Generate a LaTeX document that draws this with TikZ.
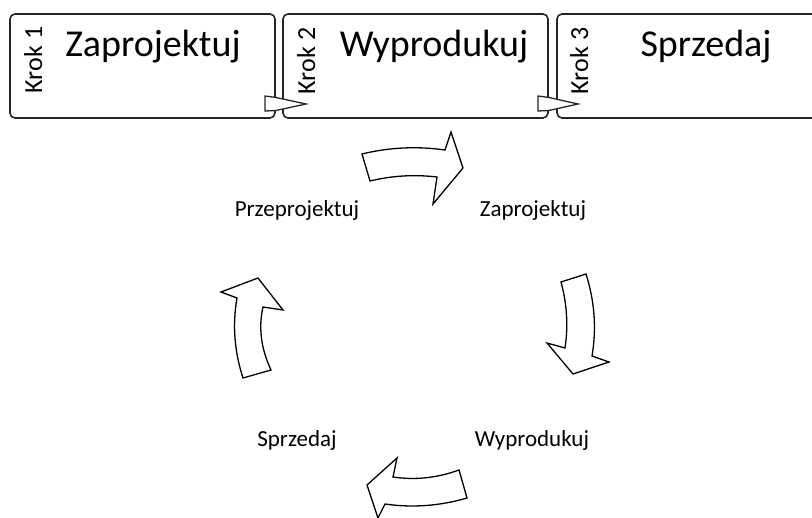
\documentclass[tikz,border=0pt]{standalone}
\usepackage{fontspec}
\setmainfont{Carlito}
\usetikzlibrary{calc}
\tikzset{
  box/.style={draw=black!85, line width=1.6pt, rounded corners=5pt, fill=white, inner sep=0pt},
  steptitle/.style={font=\fontsize{38}{40}\selectfont, anchor=base, inner sep=0pt},
  krok/.style={font=\fontsize{26}{28}\selectfont, anchor=base, rotate=90, inner sep=0pt},
  pointer/.style={draw=black!85, line width=1.3pt, fill=white, line join=miter},
  cyc/.style={draw=black, line width=1.3pt, fill=white, line join=miter},
  lbl/.style={font=\fontsize{23}{25}\selectfont, anchor=base, inner sep=0pt}
}
% quadratic curve helper: from current point #1 via control #2 to #3
\newcommand{\qcurve}[3]{.. controls ($(#1)!0.6667!(#2)$) and ($(#3)!0.6667!(#2)$) .. (#3)}
\begin{document}
\begin{tikzpicture}[x=1pt,y=-1pt]
\useasboundingbox[fill=white] (0,0) rectangle (812,518);
% step boxes
\node[box, minimum width=265pt, minimum height=104pt] (b1) at (142.5,66) {};
\node[box, minimum width=265pt, minimum height=104pt] (b2) at (415.5,66) {};
\node[box, minimum width=273pt, minimum height=104pt] (b3) at (693.5,66) {};
% pointers
\draw[pointer] (265,96) -- (276,97.5) -- (306,104) -- (276,110.5) -- (265,111) -- cycle;
\draw[pointer] (538,96) -- (549,97.5) -- (578,104) -- (549,110.5) -- (538,111) -- cycle;
% texts
\node[steptitle] (t1) at (153,57) {Zaprojektuj};
\node[steptitle] (t2) at (434,57) {Wyprodukuj};
\node[steptitle] (t3) at (706,57) {Sprzedaj};
\node[krok] (k1) at (42,60) {Krok 1};
\node[krok] (k2) at (315,61) {Krok 2};
\node[krok] (k3) at (588,61) {Krok 3};
% cycle labels
\node[lbl] (c1) at (533,217) {Zaprojektuj};
\node[lbl] (c2) at (532,447) {Wyprodukuj};
\node[lbl] (c3) at (297,447) {Sprzedaj};
\node[lbl] (c4) at (297,217) {Przeprojektuj};
% cycle arrows
\draw[cyc] (362,154) \qcurve{362,154}{403,144}{445,150} -- (451,132) -- (463,168) -- (433,204) -- (437,177) \qcurve{437,177}{403,173}{370,181} -- cycle;
\draw[cyc] (561,282) -- (586,274) \qcurve{586,274}{599,315}{592,356} -- (609,362) -- (573,374) -- (547,343) -- (565,348) \qcurve{565,348}{570,315}{561,282} -- cycle;
\draw[cyc] (459,470) -- (467,498) \qcurve{467,498}{426,510}{385,504} -- (378,518) -- (367,485) -- (397,458) -- (393,477) \qcurve{393,477}{426,482}{459,470} -- cycle;
\draw[cyc] (243,378) -- (271,370) \qcurve{271,370}{256,338}{263,307} -- (283,310) -- (258,278) -- (221,292) -- (237,298) \qcurve{237,298}{230,338}{243,378} -- cycle;
\end{tikzpicture}
\end{document}
